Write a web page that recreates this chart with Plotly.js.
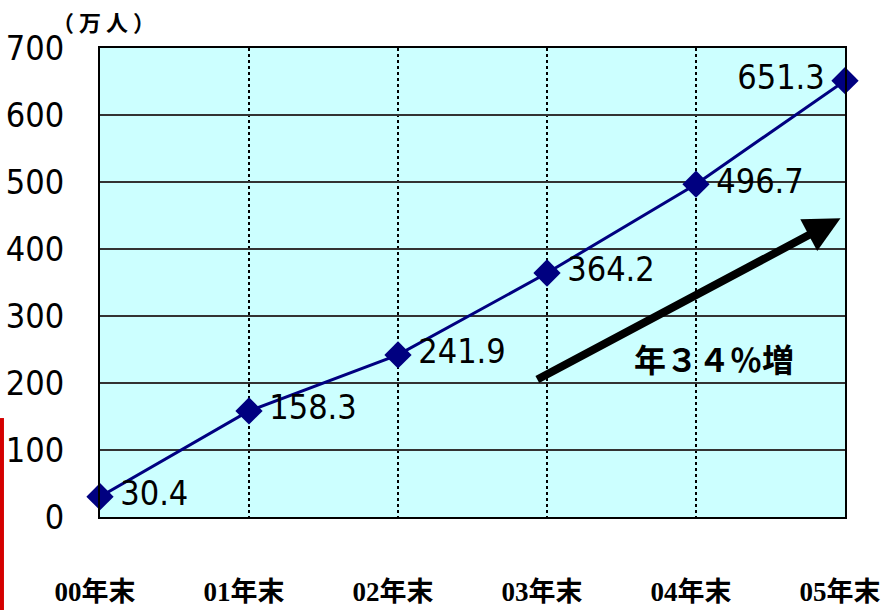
<!DOCTYPE html>
<html>
<head>
<meta charset="utf-8">
<script src="https://cdn.plot.ly/plotly-3.0.1.min.js"></script>
<style>html,body{margin:0;padding:0;background:#fff;}#chart{width:887px;height:610px;}</style>
</head>
<body>
<div id="chart"></div>
<script>
const categories = ['00年末', '01年末', '02年末', '03年末', '04年末', '05年末'];
const users = [30.4, 158.3, 241.9, 364.2, 496.7, 651.3];
const userLabels = ['30.4', '158.3', '241.9', '364.2', '496.7', '651.3'];
const yTicks = [0, 100, 200, 300, 400, 500, 600, 700];
const unitLabel = '（ 万 人 ）';
const growthLabel = '年３４％増';
const arrowFrom = {x: 2.925, y: 204};
const arrowTo = {x: 4.97, y: 446};

const narrow = '"DejaVu Sans Condensed", "Liberation Sans Narrow", sans-serif';
const cjkBold = '"Liberation Serif", "Noto Sans CJK JP", serif';

const labelTexts = userLabels.map((t, i) => i === userLabels.length - 1 ? t + '\u2009' : '\u2009' + t);

const trace = {
  type: 'scatter',
  mode: 'lines+markers+text',
  x: categories,
  y: users,
  text: labelTexts,
  textposition: ['middle right', 'middle right', 'middle right', 'middle right', 'middle right', 'middle left'],
  textfont: {family: narrow, size: 34, color: '#000'},
  line: {color: '#000080', width: 3},
  marker: {symbol: 'diamond', size: 21, color: '#000080'},
  cliponaxis: false,
  hoverinfo: 'skip'
};

const layout = {
  width: 887,
  height: 610,
  margin: {l: 100, r: 42, t: 48, b: 93},
  paper_bgcolor: '#ffffff',
  plot_bgcolor: '#ccffff',
  showlegend: false,
  xaxis: {
    type: 'category',
    range: [0, 5],
    showgrid: true,
    gridcolor: '#000',
    gridwidth: 1.2,
    griddash: 'dot',
    showline: true,
    linecolor: '#000',
    linewidth: 2,
    mirror: true,
    ticks: '',
    ticklabelstandoff: 50,
    ticklabelshift: -5,
    tickfont: {family: cjkBold, size: 27, color: '#000', weight: 'bold'},
    zeroline: false
  },
  yaxis: {
    range: [0, 700],
    tickvals: yTicks,
    ticktext: yTicks.map(String),
    showgrid: true,
    gridcolor: '#333',
    gridwidth: 1.5,
    showline: true,
    linecolor: '#000',
    linewidth: 2,
    mirror: true,
    ticks: '',
    ticklabelstandoff: 27,
    tickfont: {family: narrow, size: 34, color: '#000'},
    zeroline: false
  },
  shapes: [{
    type: 'rect', xref: 'paper', yref: 'paper',
    x0: -0.1342, x1: -0.1289, y0: -0.2, y1: 0.211,
    fillcolor: '#d40000', line: {width: 0}, layer: 'above'
  }],
  annotations: [
    {
      xref: 'paper', yref: 'paper',
      x: 0.005, y: 1.057, xanchor: 'center', yanchor: 'middle',
      text: unitLabel, showarrow: false,
      font: {family: '"Noto Sans CJK JP", sans-serif', size: 22, color: '#000', weight: 'bold'}
    },
    {
      xref: 'x', yref: 'y', axref: 'x', ayref: 'y',
      x: arrowTo.x, y: arrowTo.y, ax: arrowFrom.x, ay: arrowFrom.y,
      text: '', showarrow: true, arrowhead: 2, arrowsize: 0.9,
      arrowwidth: 8, arrowcolor: '#000'
    },
    {
      xref: 'x', yref: 'y',
      x: 4.12, y: 237, xanchor: 'center', yanchor: 'middle',
      text: growthLabel, showarrow: false,
      font: {family: '"Noto Sans CJK JP", sans-serif', size: 32, color: '#000', weight: 'bold'}
    }
  ]
};

Plotly.newPlot('chart', [trace], layout, {displayModeBar: false, staticPlot: true});
</script>
</body>
</html>
